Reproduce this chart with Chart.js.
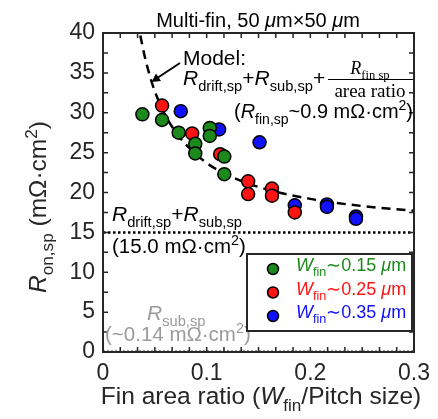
<!DOCTYPE html>
<html>
<head>
<meta charset="utf-8">
<script src="https://cdn.jsdelivr.net/npm/chart.js@4.4.0/dist/chart.umd.min.js"></script>
<style>
  html, body { margin: 0; padding: 0; background: #fff; }
  #chart { display: block; }
</style>
</head>
<body>
<canvas id="chart" width="438" height="419"></canvas>
<script>
// Axis ticks
const xTickValues = [0, 0.1, 0.2, 0.3];
const xTickLabels = ['0', '0.1', '0.2', '0.3'];
const yTickValues = [0, 5, 10, 15, 20, 25, 30, 35, 40];
const yTickLabels = ['0', '5', '10', '15', '20', '25', '30', '35', '40'];

// Measured devices (fin area ratio, Ron,sp in mOhm.cm2)
const greenX = [0.038, 0.057, 0.073, 0.089, 0.089, 0.103, 0.103, 0.117, 0.117];
const greenY = [29.8, 29.1, 27.5, 26.1, 24.9, 28.1, 27.1, 24.5, 22.3];
const redX = [0.057, 0.086, 0.113, 0.140, 0.140, 0.163, 0.163, 0.185];
const redY = [30.9, 27.4, 24.8, 21.4, 19.8, 20.5, 19.6, 17.5];
const blueX = [0.075, 0.112, 0.151, 0.185, 0.216, 0.216, 0.244, 0.244];
const blueY = [30.2, 27.9, 26.3, 18.4, 18.5, 18.2, 17.0, 16.7];

// Model curve
const modelX = [0.036, 0.04, 0.045, 0.05, 0.06, 0.07, 0.08, 0.1, 0.12, 0.15, 0.2, 0.25, 0.3];
const modelY = [39.7, 37.2, 34.7, 32.7, 29.7, 27.6, 26.0, 23.7, 22.2, 20.7, 19.2, 18.3, 17.7];

// Reference levels
const levelX = [0, 0.3];
const driftSubLevel = [15.0, 15.0];
const subLevel = [0.14, 0.14];

const GREEN = '#1b8a1b';
const RED = '#ff1414';
const BLUE = '#1010ff';
const AXIS = '#262626';
const SANS = '"Liberation Sans", Arial, sans-serif';
const SERIF = '"Liberation Serif", "Times New Roman", serif';

const toPoints = (xs, ys) => xs.map((x, i) => ({ x: x, y: ys[i] }));

// Draw a run of text pieces: {t, i: italic, sub, sup, family}
function drawRich(ctx, parts, x, y, size, opts) {
    opts = opts || {};
    const family = opts.family || SANS;
    const items = parts.map(p => {
        const small = p.sub || p.sup;
        const fs = small ? size * 0.7 : size;
        const font = (p.i ? 'italic ' : '') + fs + 'px ' + (p.family || family);
        ctx.font = font;
        const dy = p.sub ? size * 0.3 : (p.sup ? -size * 0.38 : 0);
        return { t: p.t, font: font, dy: dy, w: ctx.measureText(p.t).width };
    });
    const total = items.reduce((s, it) => s + it.w, 0);
    let cx = x;
    if (opts.align === 'center') cx = x - total / 2;
    if (opts.align === 'right') cx = x - total;
    ctx.fillStyle = opts.color || '#000';
    ctx.textBaseline = 'alphabetic';
    ctx.textAlign = 'left';
    items.forEach(it => {
        ctx.font = it.font;
        ctx.fillText(it.t, cx, y + it.dy);
        cx += it.w;
    });
    return total;
}

const decorations = {
    id: 'decorations',
    afterDraw(chart) {
        const ctx = chart.ctx;
        const a = chart.chartArea;
        const xs = chart.scales.x;
        const ys = chart.scales.y;
        ctx.save();

        // frame
        ctx.strokeStyle = AXIS;
        ctx.lineWidth = 2;
        ctx.strokeRect(a.left, a.top, a.right - a.left, a.bottom - a.top);

        // inward ticks on all four sides
        ctx.lineWidth = 1.5;
        ctx.beginPath();
        for (let k = 0; k <= 18; k++) {
            const px = xs.getPixelForValue(0.3 * k / 18);
            ctx.moveTo(px, a.bottom); ctx.lineTo(px, a.bottom - 5);
            ctx.moveTo(px, a.top); ctx.lineTo(px, a.top + 5);
        }
        for (let k = 0; k <= 16; k++) {
            const py = ys.getPixelForValue(2.5 * k);
            ctx.moveTo(a.left, py); ctx.lineTo(a.left + 5, py);
            ctx.moveTo(a.right, py); ctx.lineTo(a.right - 5, py);
        }
        ctx.stroke();

        // title
        drawRich(ctx, [
            { t: 'Multi-fin, 50 ' }, { t: 'μ', i: true }, { t: 'm×50 ' }, { t: 'μ', i: true }, { t: 'm' }
        ], 258, 27, 20, { align: 'center' });

        // axis titles
        drawRich(ctx, [
            { t: 'Fin area ratio (' }, { t: 'W', i: true }, { t: 'fin', sub: true }, { t: '/Pitch size)' }
        ], 261, 404, 24.5, { align: 'center', color: AXIS });

        ctx.save();
        ctx.translate(46, 207);
        ctx.rotate(-Math.PI / 2);
        drawRich(ctx, [
            { t: 'R', i: true }, { t: 'on,sp', sub: true }, { t: ' (mΩ·cm' }, { t: '2', sup: true }, { t: ')' }
        ], 0, 0, 24.5, { align: 'center', color: AXIS });
        ctx.restore();

        // model annotation
        drawRich(ctx, [{ t: 'Model:' }], 183, 65, 21);
        drawRich(ctx, [
            { t: 'R', i: true }, { t: 'drift,sp', sub: true }, { t: '+' },
            { t: 'R', i: true }, { t: 'sub,sp', sub: true }, { t: '+' }
        ], 183, 85, 21);
        drawRich(ctx, [
            { t: 'R', i: true, family: SERIF }, { t: 'fin sp', sub: true, family: SERIF }
        ], 370, 74, 18, { align: 'center' });
        ctx.strokeStyle = '#000';
        ctx.lineWidth = 1;
        ctx.beginPath();
        ctx.moveTo(328, 79.5); ctx.lineTo(413, 79.5);
        ctx.stroke();
        drawRich(ctx, [{ t: 'area ratio' }], 370, 97, 19, { align: 'center', family: SERIF });
        drawRich(ctx, [
            { t: '(' }, { t: 'R', i: true }, { t: 'fin,sp', sub: true }, { t: '~0.9 mΩ·cm' },
            { t: '2', sup: true }, { t: ')' }
        ], 413, 118, 20, { align: 'right' });

        // arrow to the model curve
        ctx.strokeStyle = '#000';
        ctx.fillStyle = '#000';
        ctx.lineWidth = 2;
        ctx.beginPath();
        ctx.moveTo(180, 63); ctx.lineTo(158, 77.5);
        ctx.stroke();
        ctx.beginPath();
        ctx.moveTo(151.5, 82);
        ctx.lineTo(156, 73.5);
        ctx.lineTo(161, 81);
        ctx.closePath();
        ctx.fill();

        // reference level labels
        drawRich(ctx, [
            { t: 'R', i: true }, { t: 'drift,sp', sub: true }, { t: '+' },
            { t: 'R', i: true }, { t: 'sub,sp', sub: true }
        ], 112, 221, 21);
        drawRich(ctx, [{ t: '(15.0 mΩ·cm' }, { t: '2', sup: true }, { t: ')' }], 112, 253, 20.5);
        drawRich(ctx, [{ t: 'R', i: true }, { t: 'sub,sp', sub: true }], 147, 320, 21, { color: '#9a9a9a' });
        drawRich(ctx, [{ t: '(~0.14 mΩ·cm' }, { t: '2', sup: true }, { t: ')' }], 105, 341, 20.5, { color: '#9a9a9a' });

        // legend
        ctx.fillStyle = '#fff';
        ctx.fillRect(247, 254, 165, 77);
        ctx.strokeStyle = AXIS;
        ctx.lineWidth = 2;
        ctx.strokeRect(247, 254, 165, 77);
        const rows = [
            { c: GREEN, w: '0.15', y: 271 },
            { c: RED, w: '0.25', y: 294.5 },
            { c: BLUE, w: '0.35', y: 318 }
        ];
        rows.forEach(r => {
            ctx.beginPath();
            ctx.arc(273, r.y - 2, 5.5, 0, Math.PI * 2);
            ctx.fillStyle = r.c;
            ctx.fill();
            ctx.lineWidth = 1.5;
            ctx.strokeStyle = '#000';
            ctx.stroke();
            drawRich(ctx, [
                { t: 'W', i: true }, { t: 'fin', sub: true }, { t: '∼' + r.w + ' ' }, { t: 'μ', i: true }, { t: 'm' }
            ], 296, r.y, 18, { color: r.c });
        });

        ctx.restore();
    }
};

const scatterStyle = (color, order) => ({
    type: 'scatter',
    backgroundColor: color,
    borderColor: '#000',
    pointRadius: 6.5,
    pointBorderWidth: 1.5,
    pointHoverRadius: 6.5,
    order: order
});

new Chart(document.getElementById('chart'), {
    type: 'scatter',
    data: {
        datasets: [
            Object.assign({ data: toPoints(greenX, greenY) }, scatterStyle(GREEN, 1)),
            Object.assign({ data: toPoints(redX, redY) }, scatterStyle(RED, 2)),
            Object.assign({ data: toPoints(blueX, blueY) }, scatterStyle(BLUE, 3)),
            {
                type: 'line',
                data: toPoints(modelX, modelY),
                borderColor: '#000',
                borderWidth: 2.5,
                borderDash: [9, 6],
                pointRadius: 0,
                cubicInterpolationMode: 'monotone',
                fill: false,
                order: 10
            },
            {
                type: 'line',
                data: toPoints(levelX, driftSubLevel),
                borderColor: '#000',
                borderWidth: 2.5,
                borderDash: [2.5, 2.5],
                pointRadius: 0,
                fill: false,
                order: 11
            },
            {
                type: 'line',
                data: toPoints(levelX, subLevel),
                borderColor: '#9a9a9a',
                borderWidth: 2,
                borderDash: [2, 2],
                pointRadius: 0,
                fill: false,
                order: 12
            }
        ]
    },
    options: {
        responsive: false,
        animation: false,
        devicePixelRatio: 1,
        layout: { padding: { top: 33, right: 19, left: 0, bottom: 0 } },
        plugins: {
            legend: { display: false },
            tooltip: { enabled: false },
            title: { display: false }
        },
        scales: {
            x: {
                type: 'linear',
                min: 0,
                max: 0.3,
                afterBuildTicks: axis => { axis.ticks = xTickValues.map(v => ({ value: v })); },
                afterFit: scale => { scale.height = 67; },
                grid: { display: false, drawTicks: false },
                border: { display: false },
                ticks: {
                    callback: (v, i) => xTickLabels[i],
                    color: AXIS,
                    font: { family: SANS, size: 23 },
                    padding: 8,
                    maxRotation: 0
                }
            },
            y: {
                type: 'linear',
                min: 0,
                max: 40,
                afterBuildTicks: axis => { axis.ticks = yTickValues.map(v => ({ value: v })); },
                afterFit: scale => { scale.width = 103; },
                grid: { display: false, drawTicks: false },
                border: { display: false },
                ticks: {
                    callback: (v, i) => yTickLabels[i],
                    color: AXIS,
                    font: { family: SANS, size: 23 },
                    padding: 8
                }
            }
        }
    },
    plugins: [decorations]
});
</script>
</body>
</html>
